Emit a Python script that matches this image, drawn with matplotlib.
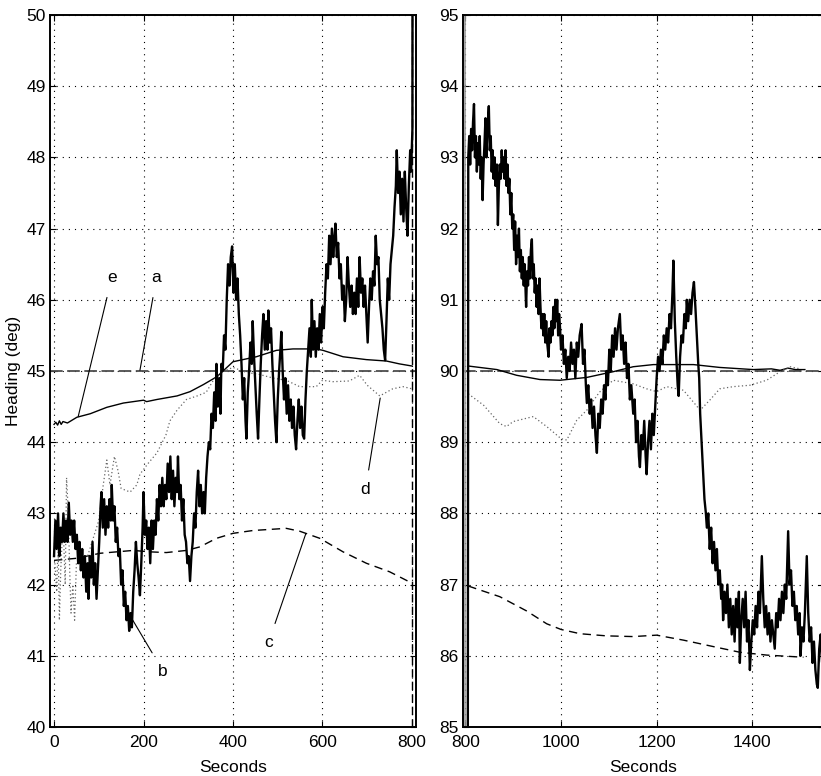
import matplotlib
matplotlib.use("Agg")
import matplotlib.pyplot as plt
from matplotlib import font_manager

# narrow Helvetica-like face if there is one, else the regular one slightly smaller
installed = {f.name for f in font_manager.fontManager.ttflist}
if 'Liberation Sans Narrow' in installed:
    plt.rcParams['font.family'] = ['Liberation Sans Narrow', 'DejaVu Sans']
    fsize = 14
else:
    plt.rcParams['font.family'] = ['Liberation Sans', 'DejaVu Sans']
    fsize = 12.5

# b: measured heading (noisy), seconds / deg
b_t_left = [0, 3, 6, 9, 12, 15, 18, 21, 24, 27, 30, 33, 36, 39, 42, 45, 48, 51, 54, 57,
            60, 63, 66, 69, 72, 75, 77, 80, 83, 86, 89, 92, 95, 98, 101, 104, 106, 109, 112, 115,
            118, 121, 124, 127, 129, 132, 135, 138, 141, 144, 147, 150, 153, 156, 159, 162, 165, 168, 171, 174,
            177, 180, 183, 186, 189, 192, 195, 198, 200, 203, 206, 209, 212, 215, 218, 221, 224, 227, 230, 233,
            236, 239, 242, 245, 248, 251, 254, 257, 260, 263, 266, 269, 272, 275, 277, 280, 283, 286, 289, 292,
            295, 298, 301, 304, 307, 310, 313, 316, 319, 322, 325, 328, 331, 334, 337, 340, 343, 346, 349, 352,
            355, 358, 361, 363, 366, 369, 372, 374, 377, 380, 383, 386, 389, 392, 395, 398, 401, 404, 407, 410,
            413, 416, 419, 422, 425, 428, 430, 433, 436, 439, 442, 444, 447, 450, 453, 456, 459, 462, 465, 468,
            471, 474, 477, 479, 482, 485, 488, 491, 494, 497, 500, 503, 506, 508, 511, 514, 517, 520, 523, 526,
            529, 532, 535, 538, 541, 544, 547, 550, 553, 556, 559, 562, 565, 568, 571, 574, 576, 579, 582, 585,
            588, 591, 594, 597, 600, 603, 606, 609, 612, 615, 618, 621, 624, 627, 629, 632, 635, 638, 641, 644,
            647, 650, 653, 656, 659, 662, 665, 668, 671, 674, 677, 680, 683, 686, 689, 692, 695, 698, 701, 704,
            707, 710, 713, 716, 719, 722, 725, 728, 731, 734, 737, 740, 743, 746, 749, 752, 755, 758, 761, 764,
            766, 769, 772, 775, 778, 781, 784, 787, 790, 793, 796, 798, 801]
b_v_left = [42.4, 42.9, 42.5, 43.0, 42.4, 42.8, 42.6, 43.0, 42.6, 42.9, 42.6, 43.15, 42.7, 42.9, 42.6, 42.9, 42.5, 42.7, 42.3, 42.6,
            42.2, 42.5, 42.1, 42.4, 41.9, 42.3, 41.8, 42.4, 42.1, 42.6, 42.0, 42.3, 41.8, 42.2, 42.6, 43.1, 43.3, 42.8, 43.2, 42.7,
            43.1, 42.8, 43.2, 42.9, 43.4, 42.9, 43.1, 42.6, 42.8, 42.4, 42.5, 42.0, 42.2, 41.7, 41.9, 41.5, 41.7, 41.35, 41.6, 41.4,
            41.9, 42.2, 42.6, 42.3, 42.1, 41.85, 42.3, 42.8, 43.3, 42.7, 42.9, 42.5, 42.8, 42.3, 42.9, 42.5, 42.9, 42.7, 43.2, 42.9,
            43.4, 43.1, 43.5, 43.1, 43.4, 43.2, 43.7, 43.3, 43.8, 43.2, 43.6, 43.1, 43.5, 43.3, 43.8, 43.2, 43.4, 42.9, 43.2, 42.7,
            42.6, 42.3, 42.4, 42.05, 42.4, 42.6, 43.0, 42.8, 43.3, 43.6, 43.1, 43.4, 43.0, 43.3, 43.0, 43.5, 43.8, 44.0, 43.9, 44.4,
            44.2, 44.7, 44.3, 45.1, 44.5, 44.9, 44.4, 45.1, 45.0, 45.5, 45.3, 46.0, 46.5, 46.2, 46.6, 46.75, 46.1, 46.5, 46.0, 46.3,
            45.8, 45.5, 45.1, 44.6, 44.9, 44.3, 44.05, 44.7, 45.0, 45.4, 45.1, 45.7, 45.2, 44.8, 44.4, 44.05, 44.6, 45.1, 45.5, 45.8,
            45.3, 45.7, 45.3, 45.85, 45.4, 45.6, 45.1, 44.7, 44.3, 44.0, 44.6, 45.0, 45.3, 45.55, 45.0, 44.6, 44.9, 44.4, 44.8, 44.3,
            44.6, 44.2, 44.5, 44.1, 43.9, 44.3, 44.6, 44.2, 44.5, 44.1, 44.05, 44.6, 45.0, 45.3, 45.6, 45.2, 46.0, 45.3, 45.7, 45.2,
            45.6, 45.3, 45.8, 45.4, 45.9, 45.6, 46.1, 46.5, 46.3, 46.9, 46.5, 47.0, 46.6, 46.9, 47.07, 46.6, 46.8, 46.3, 46.5, 46.0,
            46.2, 45.7, 46.0, 46.6, 46.2, 45.9, 46.2, 45.8, 46.1, 45.8, 46.3, 45.9, 46.6, 46.1, 46.3, 45.9, 46.2, 45.8, 45.4, 45.9,
            46.3, 46.0, 46.4, 46.2, 46.9, 46.5, 46.6, 46.0, 45.8, 45.6, 45.3, 45.15, 45.7, 46.3, 46.0, 46.5, 46.7, 46.9, 47.3, 47.6,
            48.1, 47.5, 47.8, 47.2, 47.7, 47.1, 47.8, 47.3, 46.9, 47.6, 48.1, 47.8, 48.4]
b_t_right = [806, 808, 810, 812, 814, 816, 818, 820, 822, 824, 826, 828, 830, 832, 834, 836, 838, 840, 842, 844,
             846, 849, 851, 853, 855, 857, 859, 861, 863, 866, 868, 870, 872, 874, 876, 878, 880, 882, 884, 886,
             888, 890, 892, 894, 896, 898, 900, 902, 904, 906, 908, 910, 912, 914, 916, 918, 920, 922, 924, 927,
             929, 931, 933, 935, 937, 939, 941, 943, 945, 947, 949, 951, 953, 955, 957, 959, 961, 963, 965, 967,
             969, 971, 974, 976, 978, 980, 982, 984, 986, 988, 990, 992, 994, 996, 998, 1000, 1003, 1006, 1009, 1012,
             1015, 1018, 1021, 1024, 1027, 1030, 1033, 1036, 1039, 1043, 1046, 1049, 1052, 1054, 1057, 1060, 1063, 1066, 1069, 1072,
             1075, 1078, 1081, 1084, 1087, 1090, 1093, 1095, 1098, 1101, 1104, 1107, 1110, 1113, 1116, 1119, 1123, 1126, 1129, 1132,
             1135, 1138, 1141, 1144, 1147, 1151, 1154, 1157, 1160, 1163, 1165, 1168, 1171, 1174, 1177, 1179, 1182, 1185, 1188, 1191,
             1194, 1197, 1200, 1203, 1206, 1209, 1212, 1215, 1218, 1221, 1224, 1227, 1230, 1233, 1235, 1238, 1241, 1244, 1246, 1249,
             1252, 1255, 1258, 1261, 1263, 1266, 1269, 1272, 1275, 1278, 1281, 1284, 1287, 1289, 1291, 1294, 1297, 1300, 1303, 1305,
             1308, 1311, 1314, 1317, 1320, 1323, 1326, 1329, 1332, 1335, 1337, 1339, 1342, 1345, 1348, 1351, 1354, 1357, 1360, 1363,
             1366, 1369, 1372, 1374, 1377, 1380, 1383, 1386, 1389, 1392, 1395, 1398, 1401, 1404, 1407, 1410, 1413, 1416, 1420, 1423,
             1426, 1429, 1432, 1435, 1438, 1441, 1444, 1447, 1450, 1453, 1456, 1459, 1462, 1465, 1468, 1471, 1473, 1475, 1478, 1481,
             1484, 1487, 1490, 1493, 1496, 1499, 1501, 1504, 1507, 1510, 1512, 1514, 1517, 1520, 1523, 1526, 1529, 1532, 1535, 1537,
             1540, 1543, 1546]
b_v_right = [93.0, 93.3, 92.9, 93.4, 93.1, 93.5, 93.75, 93.0, 93.3, 92.8, 93.2, 92.9, 93.3, 92.7, 93.0, 92.4, 92.9, 93.2, 93.55, 93.0,
             93.4, 93.72, 93.1, 93.3, 92.8, 93.1, 92.7, 93.0, 92.6, 92.9, 92.05, 92.6, 92.9, 92.7, 93.1, 92.8, 93.0, 92.7, 93.1, 92.6,
             92.9, 92.5, 92.7, 92.2, 92.5, 92.0, 92.2, 91.7, 92.1, 91.5, 91.9, 91.6, 92.0, 91.4, 91.7, 91.3, 91.6, 91.2, 91.5, 90.9,
             91.4, 91.2, 91.6, 91.3, 91.7, 91.85, 91.3, 91.5, 91.1, 91.3, 90.9, 91.2, 90.8, 91.3, 90.9, 90.6, 90.8, 90.5, 90.8, 90.4,
             90.7, 90.4, 90.2, 90.6, 90.4, 90.7, 90.5, 90.9, 90.6, 91.0, 90.7, 91.0, 90.5, 90.8, 90.6, 90.3, 90.5, 90.1, 90.3, 89.9,
             90.2, 90.0, 90.4, 90.1, 90.3, 89.9, 90.4, 90.2, 90.5, 90.66, 90.1, 90.3, 89.8, 89.55, 89.8, 89.4, 89.6, 89.2, 89.5, 89.1,
             88.85, 89.4, 89.2, 89.6, 89.4, 89.8, 89.6, 90.0, 89.8, 90.3, 90.0, 90.5, 90.2, 90.6, 90.3, 90.6, 90.8, 90.3, 90.5, 90.1,
             90.4, 89.9, 90.1, 89.6, 89.8, 89.4, 89.6, 89.0, 89.3, 88.8, 88.65, 89.1, 88.9, 89.3, 88.8, 88.55, 89.0, 89.3, 88.9, 89.4,
             89.1, 89.5, 89.9, 90.2, 90.0, 90.3, 90.1, 90.5, 90.3, 90.6, 90.4, 90.8, 90.6, 91.1, 91.55, 90.7, 90.2, 89.8, 89.65, 90.2,
             90.5, 90.4, 90.8, 90.6, 91.0, 90.7, 91.0, 90.8, 91.1, 91.25, 90.9, 90.5, 90.1, 89.9, 89.4, 89.0, 88.6, 88.2, 88.0, 87.8,
             88.0, 87.5, 87.8, 87.3, 87.6, 87.2, 87.5, 87.0, 87.2, 86.8, 87.0, 86.5, 86.9, 86.6, 87.0, 86.4, 86.8, 86.3, 86.7, 86.2,
             86.8, 86.4, 86.9, 85.9, 86.5, 86.8, 86.4, 86.9, 86.2, 86.5, 85.8, 86.2, 86.5, 86.3, 86.7, 86.4, 86.9, 86.6, 87.4, 86.8,
             86.4, 86.7, 86.3, 86.6, 86.2, 86.5, 86.3, 86.1, 86.6, 86.4, 86.8, 86.5, 86.9, 86.6, 87.0, 86.8, 87.3, 87.75, 87.0, 87.2,
             86.7, 86.9, 86.5, 86.7, 86.3, 86.6, 86.0, 86.4, 86.2, 86.6, 87.0, 87.4, 86.6, 86.2, 86.4, 85.9, 86.2, 85.8, 85.6, 85.55,
             86.1, 86.3, 85.9]

# a: reference heading
a_level = [45, 90]

# e: smooth estimate (solid)
e_t_left = [0, 4, 8, 12, 16, 20, 30, 51, 81, 118, 155, 200, 207, 230, 275, 304, 334, 364, 400, 452, 497, 534, 586, 601, 646, 698, 743, 772, 800]
e_v_left = [44.25, 44.28, 44.24, 44.3, 44.25, 44.29, 44.27, 44.35, 44.4, 44.49, 44.55, 44.59, 44.57, 44.6, 44.65, 44.71, 44.81, 44.92, 45.13, 45.2, 45.29, 45.31, 45.31, 45.29, 45.2, 45.16, 45.14, 45.1, 45.07]
e_t_right = [806, 866, 907, 956, 998, 1054, 1109, 1151, 1193, 1277, 1332, 1402, 1440, 1458, 1475, 1490, 1510]
e_v_right = [90.07, 90.02, 89.94, 89.88, 89.87, 89.91, 89.99, 90.06, 90.09, 90.09, 90.05, 90.02, 90.03, 90.01, 90.04, 90.02, 90.02]

# c: dashed estimate
c_t_left = [0, 51, 103, 177, 214, 251, 296, 326, 363, 400, 445, 519, 549, 594, 646, 698, 750, 800]
c_v_left = [42.34, 42.37, 42.44, 42.48, 42.46, 42.45, 42.48, 42.53, 42.65, 42.72, 42.76, 42.79, 42.75, 42.65, 42.46, 42.3, 42.18, 42.02]
c_t_right = [806, 872, 928, 970, 1000, 1040, 1095, 1151, 1200, 1256, 1325, 1374, 1430, 1507]
c_v_right = [86.98, 86.83, 86.63, 86.45, 86.37, 86.31, 86.28, 86.27, 86.29, 86.22, 86.12, 86.05, 86.01, 85.98]

# d: dotted estimate
d_t_left = [2, 6, 9, 12, 15, 20, 25, 28, 32, 35, 38, 42, 46, 50, 75, 100, 110, 118, 125, 135, 143, 150, 170, 185, 192,
            210, 230, 250, 259, 275, 296, 320, 340, 356, 380, 400, 430, 460, 490, 519, 549, 586, 600, 623, 660, 683, 700, 728, 757, 780, 800]
d_v_left = [42.3, 41.9, 42.6, 41.5, 42.2, 42.9, 42.0, 43.5, 43.0, 42.2, 41.6, 42.0, 41.5, 42.3, 42.4, 42.9, 43.4, 43.75, 43.4, 43.8, 43.6, 43.35, 43.3, 43.4, 43.55,
            43.7, 43.85, 44.1, 44.3, 44.45, 44.6, 44.65, 44.7, 44.87, 45.0, 45.05, 44.98, 44.95, 44.9, 44.87, 44.78, 44.78, 44.87, 44.85, 44.86, 44.94, 44.8, 44.65, 44.75, 44.78, 44.75]
d_t_right = [806, 838, 872, 886, 900, 942, 970, 1000, 1012, 1033, 1054, 1080, 1109, 1151, 1179, 1200, 1221, 1256, 1291, 1311, 1332, 1360, 1395, 1430, 1458, 1479, 1500]
d_v_right = [89.68, 89.52, 89.26, 89.22, 89.29, 89.36, 89.22, 89.05, 89.03, 89.31, 89.45, 89.7, 89.87, 89.82, 89.75, 89.71, 89.78, 89.73, 89.45, 89.59, 89.75, 89.78, 89.8, 89.87, 89.99, 90.06, 90.03]

# curve labels: text position and the point the leader line touches
lbl_names = ['e', 'a', 'b', 'c', 'd']
lbl_text = [(129, 46.31), (229, 46.31), (244, 40.78), (479, 41.18), (696, 43.33)]
lbl_point = [(54, 44.36), (192, 45.01), (176, 41.5), (563, 42.72), (729, 44.62)]

split_t = 801

b_t = b_t_left + b_t_right
b_v = b_v_left + b_v_right

fig = plt.figure(figsize=(8.21, 7.76), dpi=100)
ax1 = fig.add_axes([50/821, 49/776, 366/821, 712/776])
ax2 = fig.add_axes([463/821, 49/776, 361/821, 712/776])

for ax in (ax1, ax2):
    ax.plot(b_t, b_v, color='black', lw=1.7, zorder=3)
    ax.tick_params(direction='in', top=True, right=True, labelsize=fsize, length=4)
    ax.tick_params(axis='x', pad=6)
    ax.tick_params(axis='y', pad=3)
    ax.grid(True, color='black', linestyle=(0, (1, 4.5)), lw=0.8)
    for s in ax.spines.values():
        s.set_linewidth(1.4)
    ax.set_xlabel('Seconds', fontsize=fsize, labelpad=7)

# left panel
ax1.axhline(a_level[0], color='0.3', lw=1.3, dashes=(7, 2.5))
ax1.plot(e_t_left, e_v_left, color='black', lw=1.0)
ax1.plot(c_t_left, c_v_left, color='black', lw=1.0, dashes=(6, 4))
ax1.plot(d_t_left, d_v_left, color='0.4', lw=0.9, linestyle=(0, (1, 2)))
ax1.axvline(split_t, color='black', lw=1.0, dashes=(6, 3))
ax1.set_xlim(-9, 809)
ax1.set_ylim(40, 50)
ax1.set_xticks([0, 200, 400, 600, 800])
ax1.set_yticks(range(40, 51))
ax1.set_ylabel('Heading (deg)', fontsize=fsize, labelpad=4)

for name, xt, xp in zip(lbl_names, lbl_text, lbl_point):
    ax1.annotate(name, xy=xp, xytext=xt, fontsize=fsize, ha='center', va='center',
                 arrowprops=dict(arrowstyle='-', color='black', lw=0.8, shrinkA=7, shrinkB=0))

# right panel
ax2.axhline(a_level[1], color='0.3', lw=1.3, dashes=(7, 2.5))
ax2.plot(e_t_right, e_v_right, color='black', lw=1.0)
ax2.plot(c_t_right, c_v_right, color='black', lw=1.0, dashes=(6, 4))
ax2.plot(d_t_right, d_v_right, color='0.4', lw=0.9, linestyle=(0, (1, 2)))
ax2.axvline(split_t - 1, color='0.6', lw=1.2)
ax2.set_xlim(795, 1550)
ax2.set_ylim(85, 95)
ax2.set_xticks([800, 1000, 1200, 1400])
ax2.set_yticks(range(85, 96))

fig.savefig('out.png', dpi=100)
